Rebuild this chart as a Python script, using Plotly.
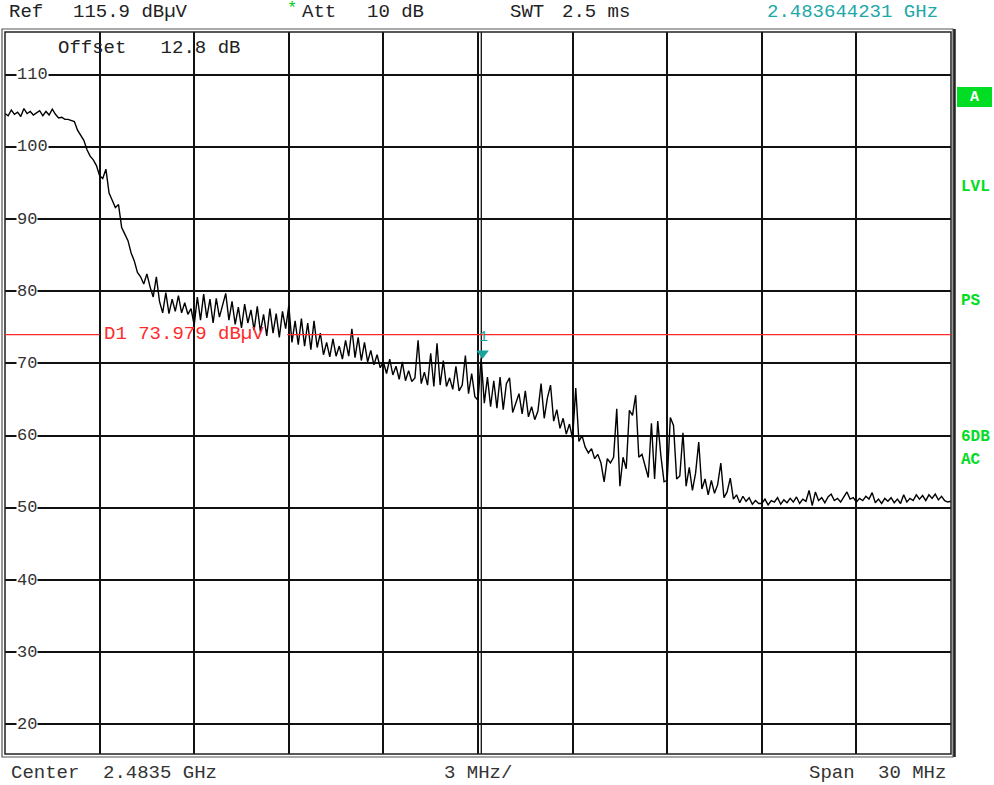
import numpy as np
import plotly.graph_objects as go

# ---------------- data ----------------
START_GHZ = 2.4685
STOP_GHZ = 2.4985
REF_LEVEL = 115.9
BOTTOM_LEVEL = 15.9

# trace level (dBuV), one value every 0.1 MHz from 2.4685 GHz to 2.4985 GHz
level_dbuv = [
    104.6, 104.3, 105.1, 104.5, 104.8, 104.2, 105.3, 104.6, 104.9, 104.4,
    104.7, 105.0, 104.3, 104.9, 104.4, 105.2, 104.5, 104.0, 104.1, 103.8,
    103.8, 103.6, 103.5, 102.3, 101.6, 100.9, 99.6, 98.7, 98.2, 97.4,
    96.0, 95.6, 96.9, 93.6, 92.6, 91.6, 92.0, 88.8, 87.9, 87.0,
    85.3, 84.2, 82.6, 82.0, 81.0, 82.4, 80.6, 79.2, 82.0, 78.6,
    77.0, 79.8, 76.9, 78.9, 77.2, 79.4, 77.0, 78.4, 76.8, 77.6,
    75.3, 79.2, 76.0, 79.6, 76.3, 78.9, 75.6, 79.0, 76.4, 78.2,
    79.7, 76.0, 78.6, 75.4, 77.8, 74.9, 78.2, 75.6, 77.4, 74.6,
    77.9, 74.4, 76.8, 73.8, 77.6, 74.2, 76.9, 73.6, 77.2, 74.8,
    78.0, 72.9, 75.9, 72.6, 76.2, 72.4, 75.6, 71.9, 75.9, 72.2,
    74.2, 71.2, 72.9, 70.9, 73.4, 71.0, 72.4, 70.6, 73.2, 71.0,
    74.8, 70.8, 73.6, 70.4, 72.9, 70.2, 71.8, 69.8, 71.2, 69.4,
    70.2, 68.6, 70.6, 68.4, 69.6, 67.8, 70.2, 67.6, 69.0, 67.5,
    68.0, 73.2, 67.2, 68.8, 67.0, 71.4, 66.8, 72.8, 67.0, 70.4,
    66.8, 68.0, 66.4, 69.6, 66.2, 67.0, 71.1, 65.8, 68.6, 65.4,
    64.9, 70.7, 64.5, 68.1, 64.0, 67.6, 63.8, 68.1, 63.6, 67.2,
    68.0, 63.2, 64.4, 65.8, 63.0, 66.2, 62.6, 64.0, 62.2, 63.4,
    67.2, 62.4, 65.2, 67.0, 62.0, 63.6, 61.0, 62.4, 60.2, 61.6,
    59.6, 66.6, 59.2, 60.0, 58.4, 57.6, 58.2, 56.8, 57.4, 56.2,
    53.6, 56.8, 56.2, 57.0, 63.7, 53.0, 57.0, 55.4, 63.5, 62.8,
    65.6, 57.0, 57.4, 55.6, 54.2, 61.7, 54.0, 62.0, 57.2, 53.6,
    53.8, 62.5, 61.4, 54.0, 54.4, 60.4, 53.0, 55.6, 52.4, 54.8,
    59.1, 52.6, 54.0, 51.8, 53.8, 52.0, 53.2, 56.2, 51.4, 52.2,
    54.1, 51.2, 51.8, 50.7, 51.6, 50.9, 51.4, 50.5, 51.0, 50.6,
    50.6, 51.2, 50.4, 51.0, 50.8, 51.4, 50.5, 51.1, 50.7, 51.3,
    50.8, 51.5, 50.6, 51.2, 50.9, 52.4, 50.3, 52.2, 51.0, 51.4,
    50.7, 51.5, 51.9, 51.0, 51.3, 50.8, 51.6, 52.2, 51.2, 51.4,
    50.8, 51.3, 51.0, 51.6, 51.2, 52.1, 50.7, 51.2, 50.6, 51.3,
    50.9, 51.4, 50.7, 51.2, 50.6, 51.8, 50.8, 51.3, 51.0, 51.8,
    51.2, 51.7, 51.0, 51.8, 51.3, 51.9, 51.1, 51.6, 51.0, 50.8,
    50.9,
]
freq_ghz = np.linspace(START_GHZ, STOP_GHZ, len(level_dbuv))

y_tick_values = [20, 30, 40, 50, 60, 70, 80, 90, 100, 110]
y_tick_labels = ["20", "30", "40", "50", "60", "70", "80", "90", "100", "110"]

d1_level = 73.979
marker_freq_ghz = 2.483644231
marker_level = 71.4

# ---------------- figure ----------------
W, H = 994, 785
PL, PR, PT, PB = 5, 951, 32, 754  # plot area in px
pw, ph = PR - PL, PB - PT

def px(xp):
    return (xp - PL) / pw

def py(yp):
    return (PB - yp) / ph

NB = "\u00a0"
MONO = "Liberation Mono"

fig = go.Figure()
fig.add_trace(go.Scatter(
    x=freq_ghz, y=level_dbuv, mode="lines",
    line=dict(color="black", width=1.4), hoverinfo="skip"))

# marker 1
fig.add_trace(go.Scatter(
    x=[marker_freq_ghz], y=[marker_level], mode="markers",
    marker=dict(symbol="triangle-down", size=11, color="#1aa39e", line=dict(width=0)),
    hoverinfo="skip"))

fig.update_layout(
    width=W, height=H, showlegend=False,
    margin=dict(l=PL, r=W - PR, t=PT, b=H - PB, pad=0),
    plot_bgcolor="white", paper_bgcolor="white",
    xaxis=dict(range=[START_GHZ, STOP_GHZ], tick0=START_GHZ, dtick=0.003,
               showgrid=True, gridcolor="#111", gridwidth=1.5,
               showticklabels=False, ticks="", zeroline=False, showline=False),
    yaxis=dict(range=[BOTTOM_LEVEL, REF_LEVEL], tickmode="array", tickvals=y_tick_values,
               showgrid=True, gridcolor="#111", gridwidth=1.5,
               showticklabels=False, ticks="", zeroline=False, showline=False),
)

shapes = []
# double frame
shapes.append(dict(type="rect", xref="paper", yref="paper", x0=0, x1=1, y0=0, y1=1,
                   line=dict(color="#222", width=1.5), layer="above"))
shapes.append(dict(type="rect", xref="paper", yref="paper",
                   x0=px(PL - 3), x1=px(PR + 2), y0=py(PB + 3), y1=py(PT - 3),
                   line=dict(color="#555", width=1.2), layer="above"))
shapes.append(dict(type="line", xref="paper", yref="paper",
                   x0=px(PR + 3.5), x1=px(PR + 3.5), y0=py(PB + 3), y1=py(PT - 3),
                   line=dict(color="#222", width=2.5), layer="above"))
# centre double line
shapes.append(dict(type="line", xref="x", yref="paper",
                   x0=2.483605, x1=2.483605, y0=0, y1=1,
                   line=dict(color="#111", width=1.3), layer="below"))
# D1 display line (broken around its label)
shapes.append(dict(type="line", xref="x", yref="y", x0=START_GHZ, x1=2.4715,
                   y0=d1_level, y1=d1_level, line=dict(color="#ff2a2a", width=1.3)))
shapes.append(dict(type="line", xref="x", yref="y", x0=2.47745, x1=STOP_GHZ,
                   y0=d1_level, y1=d1_level, line=dict(color="#ff2a2a", width=1.3)))
# "A" green box
shapes.append(dict(type="rect", xref="paper", yref="paper",
                   x0=px(957), x1=px(992), y0=py(107), y1=py(87),
                   fillcolor="#00dd22", line=dict(width=0)))
fig.update_layout(shapes=shapes)

ann = []

def text(xp, yp, s, color="#222", size=19, family=MONO, anchor="left"):
    ann.append(dict(xref="paper", yref="paper", x=px(xp), y=py(yp), text=s, showarrow=False,
                    xanchor=anchor, yanchor="middle",
                    font=dict(family=family, size=size, color=color)))

# header
text(7, 12, "Ref")
text(71, 12, "115.9" + NB + "dBµV")
text(285, 9, "*", color="#00cc22", size=17)
text(300, 12, "Att")
text(365, 12, "10" + NB + "dB")
text(508, 12, "SWT")
text(560, 12, "2.5" + NB + "ms")
text(765, 12, "2.483644231" + NB + "GHz", color="#20a8a8")
# inside plot
text(56, 48, "Offset" + NB * 3 + "12.8" + NB + "dB")
text(102, 334, "D1" + NB + "73.979" + NB + "dBµV", color="#ff2a2a")
# footer
text(9, 773, "Center", color="#333")
text(101, 773, "2.4835" + NB + "GHz", color="#333")
text(442, 773, "3" + NB + "MHz/", color="#333")
text(807, 773, "Span", color="#333")
text(876, 773, "30" + NB + "MHz", color="#333")
# right side status
text(974.5, 97, "<b>A</b>", color="white", size=15, anchor="center")
text(959, 187, "<b>LVL</b>", color="#00dd22", size=16)
text(959, 301, "<b>PS</b>", color="#00dd22", size=16)
text(959, 437, "<b>6DB</b>", color="#00dd22", size=16)
text(959, 460, "<b>AC</b>", color="#00dd22", size=16)

# y tick labels inside the plot
for v, lab in zip(y_tick_values, y_tick_labels):
    ann.append(dict(xref="paper", yref="y", x=px(16), y=v, text=lab, showarrow=False,
                    xanchor="left", yanchor="middle", bgcolor="white", borderpad=0,
                    font=dict(family=MONO, size=17, color="#333")))

# marker number
ann.append(dict(xref="x", yref="y", x=marker_freq_ghz, y=marker_level, text="1",
                showarrow=False, yshift=16, xshift=1,
                font=dict(family=MONO, size=15, color="#1aa39e")))

fig.update_layout(annotations=ann)
fig.write_html("out.html", config={"displayModeBar": False},
               post_script="document.body.style.margin='0';document.body.style.padding='0';")
